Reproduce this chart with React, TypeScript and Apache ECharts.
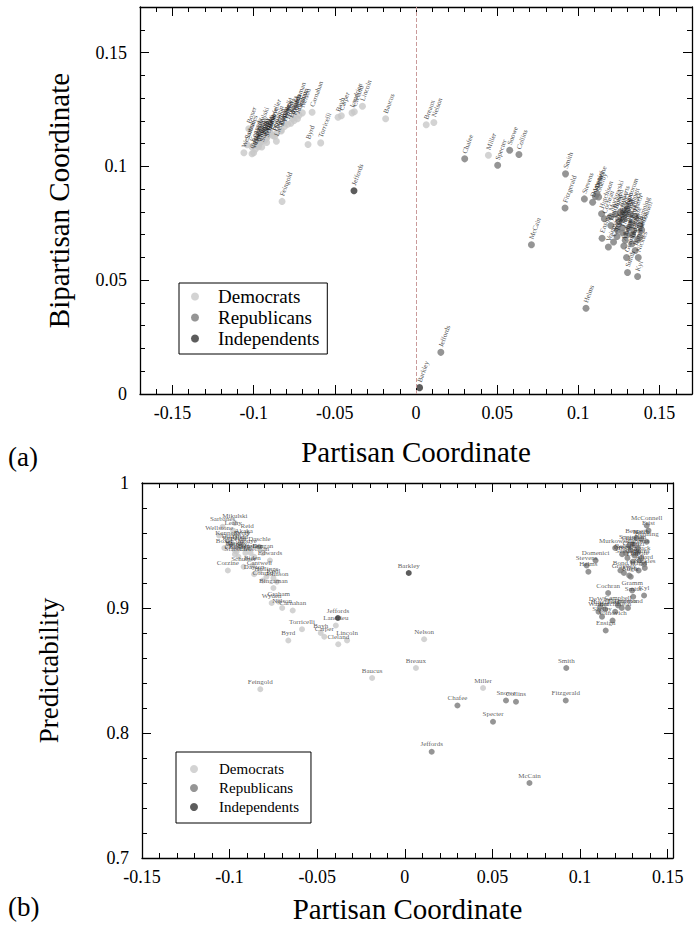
import React, { useEffect, useRef } from "react";
import * as echarts from "echarts";

const FONT = "Liberation Serif";

// ---------- Data ----------
const demNames = ["Wellstone","Sarbanes","Mikulski","Leahy","Corzine","Boxer","Reed","Kennedy","Durbin","Harkin","Levin","Feinstein","Reid","Akaka","Kerry","Inouye","Murray","Dodd","Clinton","Stabenow","Schumer","Lieberman","Rockefeller","Daschle","Dorgan","Edwards","Biden","Cantwell","Dayton","Hollings","Conrad","Kohl","Johnson","Bingaman","Graham","Wyden","Nelson","Carnahan","Torricelli","Byrd","Carper","Bayh","Landrieu","Cleland","Lincoln","Baucus","Breaux","Nelson","Miller","Feingold"];
const demPartisan = [-0.106,-0.104,-0.097,-0.098,-0.101,-0.103,-0.100,-0.101,-0.099,-0.097,-0.095,-0.088,-0.090,-0.092,-0.093,-0.090,-0.096,-0.094,-0.097,-0.095,-0.092,-0.086,-0.091,-0.083,-0.081,-0.077,-0.087,-0.083,-0.086,-0.079,-0.081,-0.075,-0.073,-0.075,-0.072,-0.076,-0.070,-0.064,-0.0587,-0.0665,-0.046,-0.048,-0.0394,-0.038,-0.033,-0.0187,0.0063,0.011,0.0446,-0.0825];
const demBipartisan = [0.106,0.1095,0.113,0.112,0.1055,0.1165,0.106,0.1085,0.1075,0.1095,0.111,0.1135,0.1145,0.1125,0.1115,0.1155,0.1105,0.1118,0.1086,0.1085,0.1105,0.111,0.1135,0.1155,0.1175,0.119,0.1132,0.116,0.1145,0.1185,0.119,0.1202,0.1209,0.1225,0.1225,0.121,0.1235,0.1238,0.1103,0.1096,0.1222,0.1216,0.1235,0.124,0.1264,0.1209,0.1183,0.1193,0.1049,0.0846];
const demPredict = [0.958,0.965,0.968,0.962,0.930,0.948,0.950,0.954,0.952,0.946,0.949,0.944,0.960,0.956,0.954,0.948,0.945,0.951,0.943,0.941,0.933,0.941,0.944,0.949,0.944,0.938,0.934,0.930,0.927,0.925,0.922,0.924,0.921,0.916,0.905,0.904,0.900,0.898,0.883,0.874,0.877,0.880,0.886,0.871,0.874,0.844,0.852,0.875,0.836,0.835];

const repNames = ["Chafee","Specter","Snowe","Collins","McCain","Jeffords","Smith","Fitzgerald","Helms","Stevens","Domenici","Warner","DeWine","Hutchison","Ensign","Voinovich","Campbell","Shelby","Cochran","Thompson","Thurmond","Hutchinson","Lugar","Gramm","Kyl","Smith","Nickles","Allard","Hagel","Grassley","Murkowski","Enzi","Brownback","Inhofe","Bennett","Bunning","McConnell","Frist","Hatch","Craig","Crapo","Roberts","Santorum","Sessions","Thomas","Gregg","Lott","Bond","Allen","Burns"];
const repPartisan = [0.030,0.0503,0.0577,0.0634,0.0711,0.0153,0.0921,0.0918,0.1047,0.1037,0.1088,0.1105,0.1115,0.1143,0.1146,0.1185,0.1217,0.1125,0.116,0.1238,0.1273,0.120,0.1289,0.1297,0.1365,0.1303,0.1369,0.1365,0.1334,0.125,0.120,0.133,0.131,0.134,0.132,0.138,0.138,0.139,0.135,0.128,0.129,0.126,0.130,0.127,0.133,0.124,0.130,0.123,0.128,0.135];
const repBipartisan = [0.1033,0.1005,0.1071,0.1052,0.0656,0.0183,0.0967,0.0817,0.0377,0.0857,0.0842,0.0868,0.088,0.0792,0.0684,0.0646,0.0668,0.0865,0.077,0.0692,0.0707,0.074,0.0675,0.060,0.0516,0.0534,0.060,0.0678,0.070,0.076,0.078,0.075,0.073,0.072,0.079,0.074,0.069,0.072,0.078,0.077,0.079,0.080,0.081,0.073,0.066,0.072,0.070,0.079,0.065,0.063];
const repPredict = [0.822,0.809,0.826,0.825,0.760,0.785,0.852,0.826,0.929,0.934,0.938,0.897,0.901,0.899,0.882,0.890,0.902,0.893,0.912,0.900,0.900,0.897,0.925,0.914,0.910,0.909,0.932,0.935,0.930,0.928,0.948,0.945,0.942,0.938,0.956,0.953,0.966,0.962,0.955,0.950,0.946,0.944,0.951,0.940,0.948,0.943,0.937,0.930,0.926,0.940];

const indNames = ["Jeffords","Barkley"];
const indPartisan = [-0.0382,0.0022];
const indBipartisan = [0.0893,0.0028];
const indPredict = [0.892,0.928];

const partyNames = ["Democrats","Republicans","Independents"];
const partyColors = ["#c8c8c8","#7a7a7a","#333333"];

// Tick labels
const topXTicks = [-0.15,-0.1,-0.05,0,0.05,0.1,0.15];
const topYTicks = [0,0.05,0.1,0.15];
const botXTicks = [-0.15,-0.1,-0.05,0,0.05,0.1,0.15];
const botYTicks = [0.7,0.8,0.9,1];

function steps(from: number, to: number, div: number) {
  const out: number[] = [];
  for (let i = from; i <= to; i++) out.push(Math.round(i * 1000 / div) / 1000);
  return out;
}
const topXMinor = steps(-17, 17, 100);
const topYMinor = steps(0, 17, 100);
const botXMinor = steps(-15, 15, 100);
const botYMinor = steps(35, 50, 50);

function axes(gridIndex: number, dir: "x" | "y", min: number, max: number, major: number[], minor: number[], name: string, nameGap: number, nameSize: number) {
  const posMain = dir === "x" ? "bottom" : "left";
  const posMirror = dir === "x" ? "top" : "right";
  const base = { type: "value", gridIndex, min, max, splitLine: { show: false } };
  const tickStyle = { color: "#000", width: 1 };
  const mk = (pos: string, isMajor: boolean, labels: boolean) => ({
    ...base,
    position: pos,
    axisLine: { show: isMajor, onZero: false, lineStyle: { color: "#000", width: 1.3 } },
    axisTick: { show: true, inside: true, length: isMajor ? 9 : 5, customValues: isMajor ? major : minor, lineStyle: tickStyle },
    axisLabel: { show: labels, customValues: major, fontSize: 18, fontFamily: FONT, color: "#000", margin: dir === "x" ? 10 : 13 },
    ...(labels ? { name, nameLocation: "middle", nameGap, nameTextStyle: { fontSize: nameSize, fontFamily: FONT, color: "#000" } } : {}),
  });
  return [mk(posMain, true, true), mk(posMain, false, false), mk(posMirror, true, false), mk(posMirror, false, false)];
}

function series(gridIdx: number, party: number, names: string[], xs: number[], ys: number[], top: boolean, extra: any = {}) {
  return {
    type: "scatter",
    name: partyNames[party],
    xAxisIndex: gridIdx * 4,
    yAxisIndex: gridIdx * 4,
    symbolSize: top ? 7 : 6,
    itemStyle: { color: partyColors[party] },
    data: names.map((n, i) => [xs[i], ys[i], n]),
    label: top
      ? { show: true, formatter: (p: any) => p.data[2], position: "top", distance: 2, rotate: 70, align: "left", verticalAlign: "middle", fontSize: 7, fontFamily: FONT, color: "#222" }
      : { show: true, formatter: (p: any) => p.data[2], position: "top", distance: 1, fontSize: 7, fontFamily: FONT, color: "#333" },
    emphasis: { disabled: true },
    ...extra,
  };
}

export default function App() {
  const ref = useRef<HTMLDivElement>(null);
  useEffect(() => {
    if (!ref.current) return;
    const chart = echarts.init(ref.current, null, { renderer: "svg" });
    const legendBase = {
      orient: "vertical",
      data: partyNames,
      borderColor: "#000",
      borderWidth: 1,
      icon: "circle",
      itemWidth: 8,
      itemHeight: 8,
      selectedMode: false,
    };
    chart.setOption({
      animation: false,
      backgroundColor: "#fff",
      textStyle: { fontFamily: FONT },
      grid: [
        { left: 140, top: 7, width: 552, height: 387 },
        { left: 142, top: 483, width: 531, height: 375 },
      ],
      xAxis: [
        ...axes(0, "x", -0.17, 0.17, topXTicks, topXMinor, "Partisan Coordinate", 43, 29),
        ...axes(1, "x", -0.15, 0.153, botXTicks, botXMinor, "Partisan Coordinate", 36, 29),
      ],
      yAxis: [
        ...axes(0, "y", 0, 0.17, topYTicks, topYMinor, "Bipartisan Coordinate", 67, 29),
        ...axes(1, "y", 0.7, 1, botYTicks, botYMinor, "Predictability", 80, 27),
      ],
      legend: [
        { ...legendBase, left: 179, top: 283, padding: [4, 8, 6, 12], itemGap: 2, textStyle: { fontSize: 19, lineHeight: 19, fontFamily: FONT, color: "#000", padding: [0, 0, 0, 14] } },
        { ...legendBase, left: 176, top: 752, padding: [9, 12, 8, 14], itemGap: 3, textStyle: { fontSize: 15, lineHeight: 16, fontFamily: FONT, color: "#000", padding: [0, 0, 0, 16] } },
      ],
      graphic: [
        { type: "text", left: 8, top: 443, style: { text: "(a)", font: `27px ${FONT}`, fill: "#000" } },
        { type: "text", left: 8, top: 893, style: { text: "(b)", font: `27px ${FONT}`, fill: "#000" } },
      ],
      series: [
        series(0, 0, demNames, demPartisan, demBipartisan, true, {
          markLine: { silent: true, symbol: "none", label: { show: false }, lineStyle: { color: "#c99a9a", type: "dashed", width: 1 }, data: [{ xAxis: 0 }] },
        }),
        series(0, 1, repNames, repPartisan, repBipartisan, true),
        series(0, 2, indNames, indPartisan, indBipartisan, true),
        series(1, 0, demNames, demPartisan, demPredict, false),
        series(1, 1, repNames, repPartisan, repPredict, false),
        series(1, 2, indNames, indPartisan, indPredict, false),
      ],
    });
    return () => chart.dispose();
  }, []);
  return <div ref={ref} style={{ position: "absolute", left: 0, top: 0, width: 695, height: 941, background: "#fff" }} />;
}
